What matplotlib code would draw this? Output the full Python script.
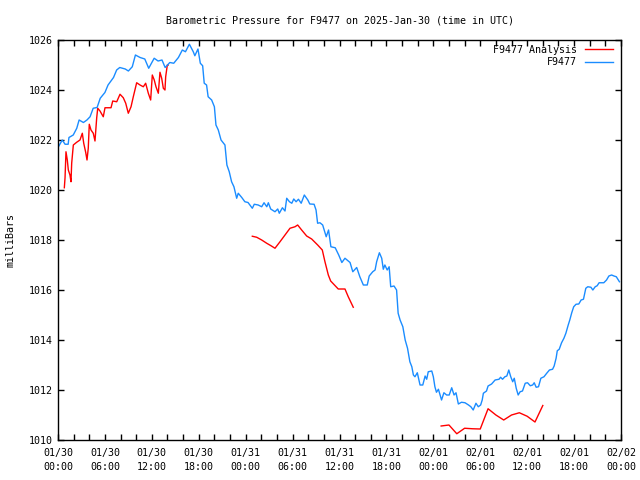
import matplotlib
matplotlib.use("agg")
from matplotlib import pyplot as plt
import numpy as np

# hours since 2025-01-30 00:00 UTC
blue_hours = [0.0, 0.55, 0.9, 1.3, 1.4, 1.95, 2.4, 2.7, 3.25, 3.7, 4.1, 4.5, 5.0, 5.4, 6.0, 6.4,
    7.1, 7.5, 7.9, 8.6, 9.0, 9.5, 9.9, 10.5, 11.1, 11.6, 12.3, 12.8, 13.3, 13.7, 14.3, 14.8,
    15.4, 15.9, 16.3, 16.8, 17.3, 17.5, 17.9, 18.2, 18.5, 18.7, 19.0, 19.2, 19.65, 20.0, 20.2,
    20.5, 20.85, 21.35, 21.6, 21.9, 22.2, 22.5, 22.85, 23.05, 23.5, 23.9, 24.3, 24.85, 25.1,
    25.6, 26.05, 26.35, 26.7, 26.9, 27.2, 27.75, 28.1, 28.3, 28.7, 29.03, 29.25, 29.6, 29.9,
    30.15, 30.45, 30.75, 31.1, 31.5, 31.95, 32.2, 32.75, 33.0, 33.2, 33.5, 33.85, 34.3, 34.6,
    34.9, 35.45, 35.9, 36.3, 36.7, 37.35, 37.7, 38.2, 38.6, 39.05, 39.55, 39.8, 40.25, 40.55,
    40.75, 41.1, 41.4, 41.6, 41.8, 42.1, 42.35, 42.55, 42.97, 43.3, 43.5, 43.75, 44.1, 44.4,
    44.7, 45.0, 45.25, 45.45, 45.65, 45.95, 46.3, 46.65, 46.95, 47.15, 47.35, 47.8, 48.0, 48.2,
    48.4, 48.65, 49.05, 49.35, 49.7, 50.03, 50.35, 50.65, 50.9, 51.2, 51.6, 52.05, 52.5, 52.8,
    53.1, 53.45, 53.75, 54.05, 54.25, 54.4, 54.8, 55.0, 55.45, 55.9, 56.4, 56.6, 56.85, 57.15,
    57.4, 57.65, 57.9, 58.15, 58.35, 58.6, 58.85, 59.1, 59.4, 59.75, 60.05, 60.4, 60.7, 60.9,
    61.15, 61.45, 61.75, 62.15, 62.5, 62.85, 63.25, 63.45, 63.7, 63.85, 64.1, 64.4, 64.7, 64.95,
    65.25, 65.45, 65.7, 65.95, 66.25, 66.6, 66.9, 67.2, 67.5, 67.75, 68.15, 68.4, 68.7, 68.95,
    69.2, 69.8, 70.15, 70.45, 70.8, 71.1, 71.4, 71.8]
blue_mb = [1021.7, 1022.0, 1021.83, 1021.83, 1022.1, 1022.2, 1022.47, 1022.8, 1022.7, 1022.8,
    1022.93, 1023.27, 1023.3, 1023.67, 1023.9, 1024.2, 1024.5, 1024.8, 1024.9, 1024.84, 1024.76,
    1024.93, 1025.4, 1025.3, 1025.24, 1024.87, 1025.27, 1025.16, 1025.2, 1024.9, 1025.1, 1025.07,
    1025.3, 1025.6, 1025.53, 1025.83, 1025.53, 1025.37, 1025.64, 1025.07, 1024.97, 1024.27,
    1024.2, 1023.73, 1023.6, 1023.33, 1022.6, 1022.4, 1022.0, 1021.8, 1021.0, 1020.73, 1020.33,
    1020.13, 1019.67, 1019.87, 1019.7, 1019.53, 1019.5, 1019.27, 1019.43, 1019.4, 1019.33,
    1019.49, 1019.33, 1019.49, 1019.24, 1019.13, 1019.24, 1019.07, 1019.29, 1019.16, 1019.67,
    1019.53, 1019.47, 1019.64, 1019.53, 1019.63, 1019.47, 1019.8, 1019.6, 1019.44, 1019.43,
    1019.2, 1018.67, 1018.69, 1018.6, 1018.13, 1018.4, 1017.73, 1017.69, 1017.4, 1017.1,
    1017.27, 1017.1, 1016.73, 1016.9, 1016.53, 1016.2, 1016.2, 1016.56, 1016.73, 1016.8,
    1017.13, 1017.49, 1017.27, 1016.83, 1017.0, 1016.8, 1016.93, 1016.13, 1016.16, 1016.0,
    1015.07, 1014.8, 1014.53, 1014.0, 1013.67, 1013.13, 1012.93, 1012.6, 1012.53, 1012.69,
    1012.2, 1012.2, 1012.56, 1012.43, 1012.73, 1012.76, 1012.53, 1012.13, 1011.91, 1012.03,
    1011.6, 1011.89, 1011.8, 1011.8, 1012.09, 1011.8, 1011.89, 1011.44, 1011.51, 1011.49,
    1011.4, 1011.33, 1011.2, 1011.47, 1011.33, 1011.4, 1011.6, 1011.87, 1011.96, 1012.16,
    1012.24, 1012.4, 1012.43, 1012.51, 1012.43, 1012.53, 1012.56, 1012.8, 1012.53, 1012.33,
    1012.47, 1012.07, 1011.8, 1011.93, 1011.96, 1012.27, 1012.29, 1012.17, 1012.2, 1012.29,
    1012.11, 1012.13, 1012.47, 1012.53, 1012.67, 1012.8, 1012.83, 1012.96, 1013.27, 1013.57,
    1013.63, 1013.89, 1014.07, 1014.27, 1014.6, 1014.8, 1015.09, 1015.33, 1015.43, 1015.44,
    1015.6, 1015.63, 1016.07, 1016.13, 1016.11, 1016.0, 1016.13, 1016.17, 1016.29, 1016.29,
    1016.4, 1016.56, 1016.6, 1016.56, 1016.53, 1016.33]

red1_hours = [0.81, 0.9, 1.02, 1.19, 1.32, 1.53, 1.66, 1.75, 1.96, 2.39, 2.81, 3.11, 3.29, 3.54,
    3.71, 3.87, 4.0, 4.22, 4.51, 4.73, 4.95, 5.08, 5.37, 5.79, 6.01, 6.78, 7.0, 7.51, 7.93, 8.35,
    8.66, 8.99, 9.34, 9.63, 10.06, 10.49, 10.91, 11.21, 11.55, 11.85, 12.06, 12.31, 12.53,
    12.83, 13.04, 13.26, 13.47, 13.68, 13.77, 13.98, 14.1]
red1_mb = [1020.09, 1020.49, 1021.53, 1021.2, 1020.8, 1020.6, 1020.33, 1021.07, 1021.8, 1021.91,
    1022.0, 1022.27, 1021.87, 1021.51, 1021.2, 1021.67, 1022.63, 1022.4, 1022.27, 1021.96,
    1022.89, 1023.27, 1023.16, 1022.93, 1023.29, 1023.29, 1023.56, 1023.53, 1023.83, 1023.69,
    1023.47, 1023.07, 1023.33, 1023.73, 1024.29, 1024.2, 1024.13, 1024.27, 1023.87, 1023.6,
    1024.6, 1024.4, 1024.13, 1023.87, 1024.71, 1024.47, 1024.07, 1024.0, 1024.53, 1025.0, 1025.0]

red2_hours = [24.85, 25.41, 26.05, 26.69, 27.24, 27.75, 28.39, 29.03, 29.67, 30.31, 30.65, 31.16,
    31.8, 32.44, 33.21, 33.8, 34.14, 34.57, 34.87, 35.84, 36.7, 37.12, 37.76]
red2_mb = [1018.15, 1018.11, 1018.0, 1017.87, 1017.77, 1017.67, 1017.93, 1018.2, 1018.47,
    1018.53, 1018.6, 1018.4, 1018.16, 1018.04, 1017.8, 1017.6, 1017.13, 1016.6, 1016.36,
    1016.04, 1016.04, 1015.73, 1015.31]

red3_hours = [49, 50, 51, 52, 53, 54, 55, 56, 57, 58, 59, 60, 61, 62]
red3_mb = [1010.56, 1010.6, 1010.25, 1010.47, 1010.45, 1010.44, 1011.25, 1011.0, 1010.8,
    1011.0, 1011.09, 1010.95, 1010.72, 1011.38]

xtick_labels = ["01/30\n00:00", "01/30\n06:00", "01/30\n12:00", "01/30\n18:00",
    "01/31\n00:00", "01/31\n06:00", "01/31\n12:00", "01/31\n18:00",
    "02/01\n00:00", "02/01\n06:00", "02/01\n12:00", "02/01\n18:00", "02/02\n00:00"]

font = "DejaVu Sans Mono"
fs = 7.2
blue = "#1a8cff"
red = "#ff0000"

fig = plt.figure(figsize=(6.4, 4.8), dpi=100)
ax = fig.add_axes([58/640, 1-440/480, 563/640, 400/480])

ax.plot(red1_hours, red1_mb, color=red, lw=1.0, label="F9477 Analysis")
ax.plot(red2_hours, red2_mb, color=red, lw=1.0)
ax.plot(red3_hours, red3_mb, color=red, lw=1.0)
ax.plot(blue_hours, blue_mb, color=blue, lw=1.0, label="F9477")

ax.set_xlim(0, 72)
ax.set_ylim(1010, 1026)
ax.set_xticks(np.arange(0, 73, 6))
ax.set_xticks(np.arange(0, 73, 2), minor=True)
ax.set_xticklabels(xtick_labels, fontfamily=font, fontsize=fs, linespacing=1.5)
ax.set_yticks(np.arange(1010, 1027, 2))
ax.set_yticklabels(["%d" % v for v in np.arange(1010, 1027, 2)], fontfamily=font, fontsize=fs)
ax.tick_params(which="both", direction="in", length=4, width=1, top=True, right=True,
    color="black", pad=4)
ax.tick_params(axis="x", pad=6)
for s in ax.spines.values():
    s.set_linewidth(1.0)

ax.set_ylabel("milliBars", fontfamily=font, fontsize=fs)
ax.yaxis.set_label_coords(-0.075, 0.5)
ax.set_title("Barometric Pressure for F9477 on 2025-Jan-30 (time in UTC)",
    fontfamily=font, fontsize=fs, pad=12)

leg = ax.legend(loc="upper right", bbox_to_anchor=(0.986, 0.988), frameon=False,
    markerfirst=False, prop={"family": font, "size": fs}, handlelength=2.8,
    handletextpad=0.8, borderaxespad=0, borderpad=0, labelspacing=0.25)

fig.savefig("out.png", dpi=100)
